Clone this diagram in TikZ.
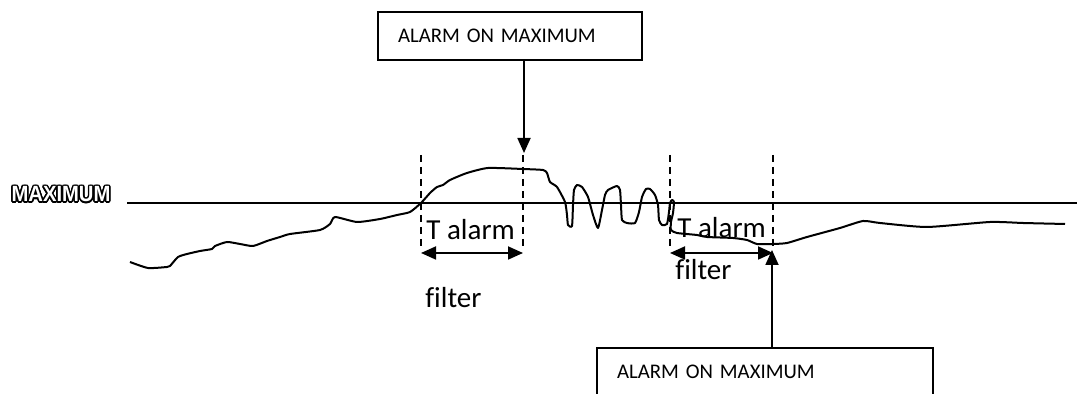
\documentclass[tikz,border=0pt]{standalone}
\usepackage{fontspec}
\setmainfont{Carlito}[Ligatures=NoCommon]
\newfontfamily\labelfont{Liberation Sans}
\usepackage{contour}
\contourlength{0.8pt}
\usetikzlibrary{arrows.meta,positioning,calc}

\begin{document}
\begin{tikzpicture}[x=0.5pt,y=-0.5pt,
	box/.style={draw,line width=1pt,anchor=north west,minimum height=24pt,inner xsep=10pt,align=left,font=\fontsize{10.4pt}{12pt}\selectfont},
	lbl/.style={inner sep=0pt,anchor=base west,font=\fontsize{14.5pt}{17pt}\selectfont},
	marker/.style={line width=0.9pt,dash pattern=on 3.5pt off 2.5pt},
	span/.style={line width=0.9pt,<->,>={Triangle[length=7.5pt,width=6.5pt]}},
	pointer/.style={line width=0.9pt,->,>={Triangle[length=7.5pt,width=6.5pt]}}]
	\useasboundingbox (0,0) rectangle (1077,394);

	% level line
	\coordinate (maxL) at (127,203);
	\coordinate (maxR) at (1077,203);
	\draw[line width=0.75pt] (maxL) -- (maxR);
	\node[inner sep=0pt,font=\labelfont\bfseries\fontsize{11pt}{13pt}\selectfont] (maxlbl) at (61,195)
		{\scalebox{0.92}[1]{\contour{black}{\textcolor{white}{MAXIMUM}}}};

	% signal
	\draw[line width=1pt,line join=round] plot[smooth,tension=0.35] coordinates {
		(130,262) (148,268) (167,267) (170,266) (178,257) (187,254) (200,251)
		(212,249) (215,246) (227,242) (240,244) (253,246) (267,241) (280,237)
		(290,234) (320,230) (330,224) (335,217) (357,222) (380,219) (397,215)
		(410,212) (421,203) (430,193) (437,187) (443,185) (450,180) (467,173)
		(488,168) (523,169) (543,170) (547,173) (550,182) (557,187) (565,202)
		(567,215) (568,225) (572,226) (573,205) (574,190) (577,185) (582,187)
		(588,197) (593,215) (598,228) (602,210) (605,195) (608,190) (617,186)
		(620,190) (621,205) (622,220) (627,223) (635,223) (639,212) (642,197)
		(646,189) (650,189) (655,195) (658,205) (659,220) (662,225) (667,224)
		(669,212) (670,203) (672,200) (674,202) (673,213) (671,222) (671,230)
		(677,233) (697,235) (707,237) (733,238) (747,240) (757,244) (773,244)
		(787,243) (807,237) (840,228) (863,221) (880,223) (927,227) (990,222)
		(1023,223) (1065,224)};

	% time markers
	\coordinate (m1) at (421,155);
	\coordinate (m2) at (523,155);
	\coordinate (m3) at (670,155);
	\coordinate (m4) at (773,155);
	\foreach \m in {m1,m2,m3,m4}
		\draw[marker] (\m) -- ++(0,92);

	% filter windows
	\coordinate (s1) at (421,253);
	\coordinate (e1) at (523,253);
	\coordinate (s2) at (670,253);
	\coordinate (e2) at (773,253);
	\draw[span] (s1) -- (e1);
	\draw[span] (s2) -- (e2);

	\node[lbl] (talarm1) at (426,240) {T alarm};
	\node[lbl] (filter1) at (425,308) {filter};
	\node[lbl] (talarm2) at (677,238) {T alarm};
	\node[lbl] (filter2) at (675,280) {filter};

	% alarm boxes
	\node[box,text width=112pt] (topbox) at (377,11) {ALARM ON MAXIMUM};
	\node[box,text width=148pt] (botbox) at (596,347) {ALARM ON MAXIMUM};

	\coordinate (tip1) at (524,153);
	\coordinate (tip2) at (772,250);
	\draw[pointer] (topbox.south -| tip1) -- (tip1);
	\draw[pointer] (botbox.north -| tip2) -- (tip2);
\end{tikzpicture}
\end{document}
